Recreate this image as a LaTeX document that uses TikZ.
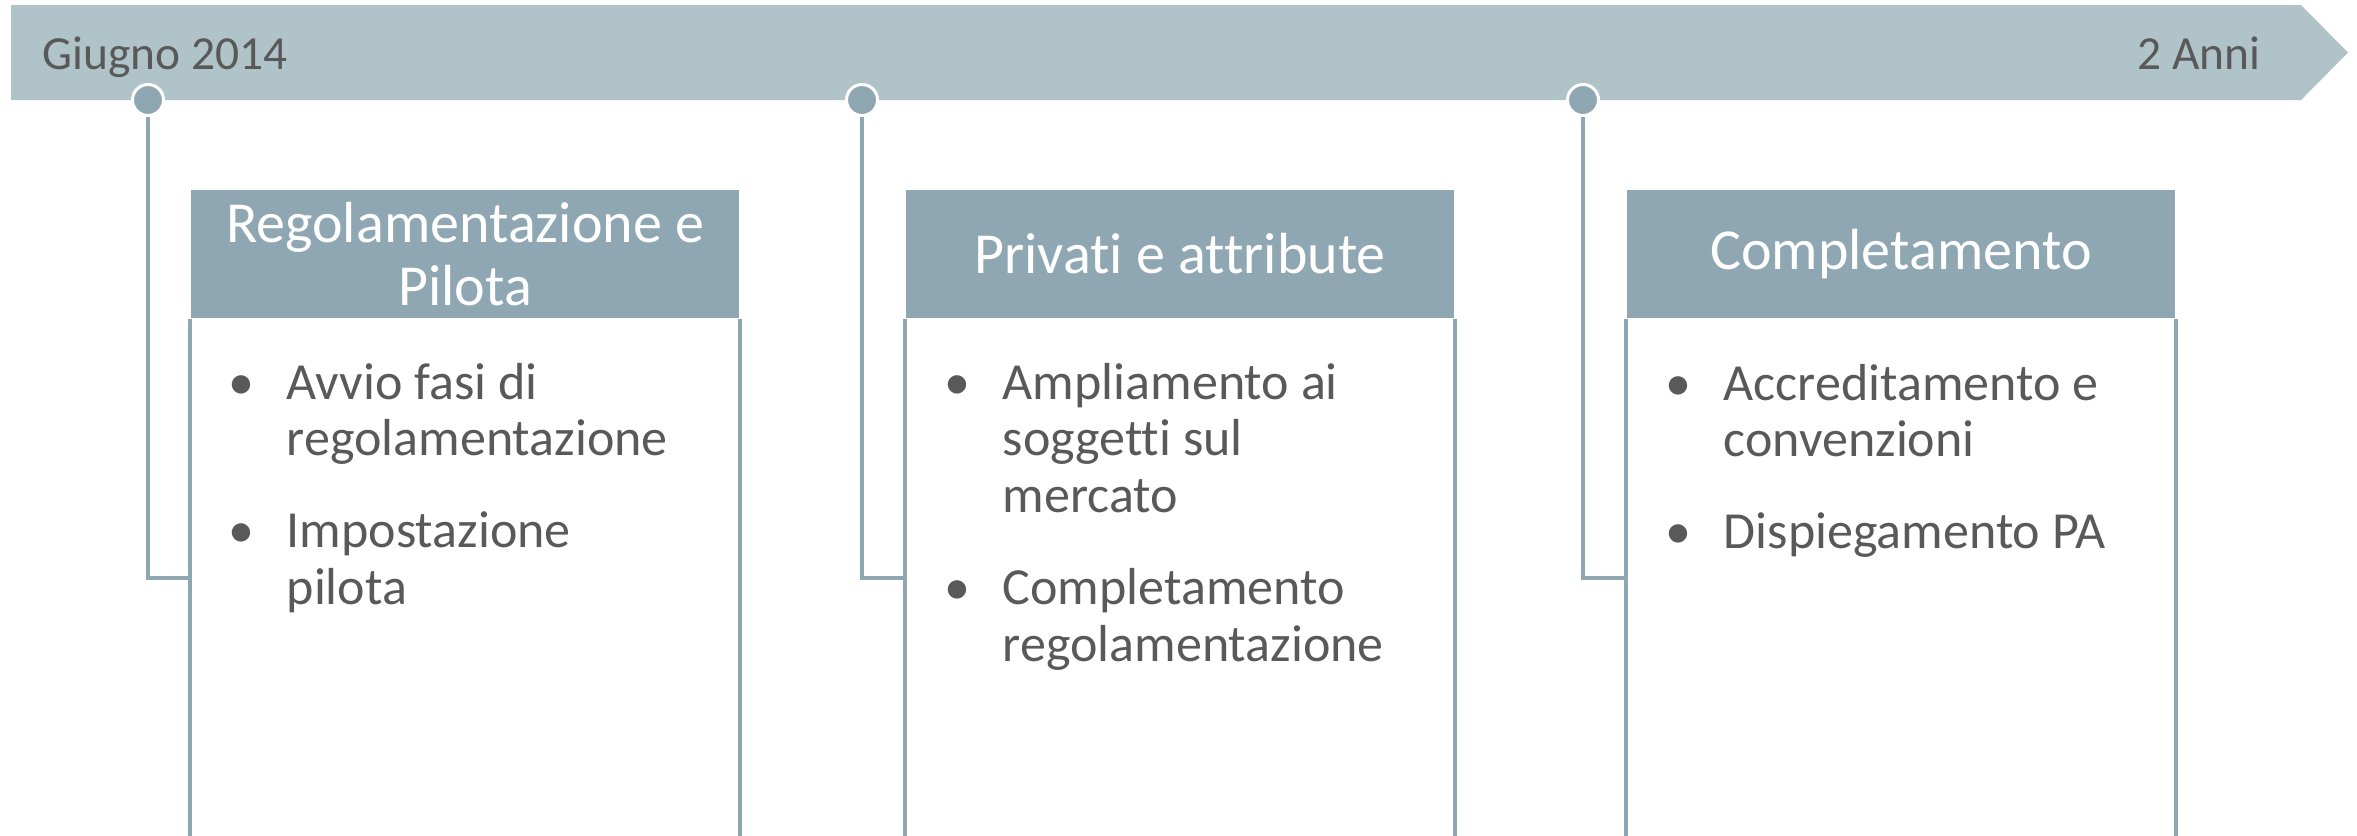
\documentclass[tikz,border=0pt]{standalone}
\usepackage{fontspec}
\setmainfont{Carlito}[Ligatures={NoCommon}]
\usepackage{xcolor}
\usetikzlibrary{positioning}

\definecolor{bandgray}{HTML}{B0C3C9}
\definecolor{headgray}{HTML}{8FA7B3}
\definecolor{textgray}{HTML}{595959}
\newcommand{\bul}{\makebox[0pt]{\textbullet}}

\tikzset{
  stamp/.style={text=textgray, font=\fontsize{13.5}{16}\selectfont, inner sep=0pt},
  milestone/.style={circle, fill=headgray, draw=white, line width=0.03cm, minimum size=0.31cm, inner sep=0pt},
  head/.style={fill=headgray, text=white, minimum width=5.48cm, minimum height=1.28cm, inner sep=0pt, align=center, font=\fontsize{16.5}{17.9}\selectfont},
  body/.style={minimum width=5.48cm, minimum height=5.17cm, inner sep=0pt},
  frame/.style={draw=headgray, line width=0.04cm},
  link/.style={draw=headgray, line width=0.04cm},
  points/.style={anchor=base west, inner sep=0pt, text=textgray, font=\fontsize{14.8}{16.2}\selectfont}
}

\begin{document}
\begin{tikzpicture}[x=0.01cm, y=-0.01cm]
\useasboundingbox (0,0) rectangle (2357,835);
% timeline band
\fill[bandgray] (11,5) -- (2301,5) -- (2348,52.5) -- (2301,100) -- (11,100) -- cycle;
\node[stamp, anchor=base west] (start) at (42,69) {Giugno 2014};
\node[stamp, anchor=base east] (end) at (2261,69) {2 Anni};

% phases
\node[head] (head1) at (465,254) {Regolamentazione e\\Pilota};
\node[head] (head2) at (1180,254) {Privati e attribute};
\node[head] (head3) at (1901,254) {Completamento};
\foreach \i in {1,2,3} {
  \node[body, below=0pt of head\i] (body\i) {};
  \draw[frame] (body\i.north west) -- (body\i.south west)
               (body\i.north east) -- (body\i.south east);
}

% milestones
\node[milestone] (m1) at (148,100) {};
\node[milestone] (m2) at (862,100) {};
\node[milestone] (m3) at (1583,100) {};
\foreach \i in {1,2,3}
  \draw[link] (m\i) |- (body\i.west);

% bullet points
\node[points] (list1) at (241,399) {\begin{tabular}[t]{@{}p{0.45cm}@{}l@{}}
  \bul & Avvio fasi di\\ & regolamentazione\\[9.7pt]
  \bul & Impostazione\\ & pilota
\end{tabular}};
\node[points] (list2) at (957,399) {\begin{tabular}[t]{@{}p{0.45cm}@{}l@{}}
  \bul & Ampliamento ai\\ & soggetti sul\\ & mercato\\[9.7pt]
  \bul & Completamento\\ & regolamentazione
\end{tabular}};
\node[points] (list3) at (1678,400) {\begin{tabular}[t]{@{}p{0.45cm}@{}l@{}}
  \bul & Accreditamento e\\ & convenzioni\\[9.7pt]
  \bul & Dispiegamento PA
\end{tabular}};
\end{tikzpicture}
\end{document}
